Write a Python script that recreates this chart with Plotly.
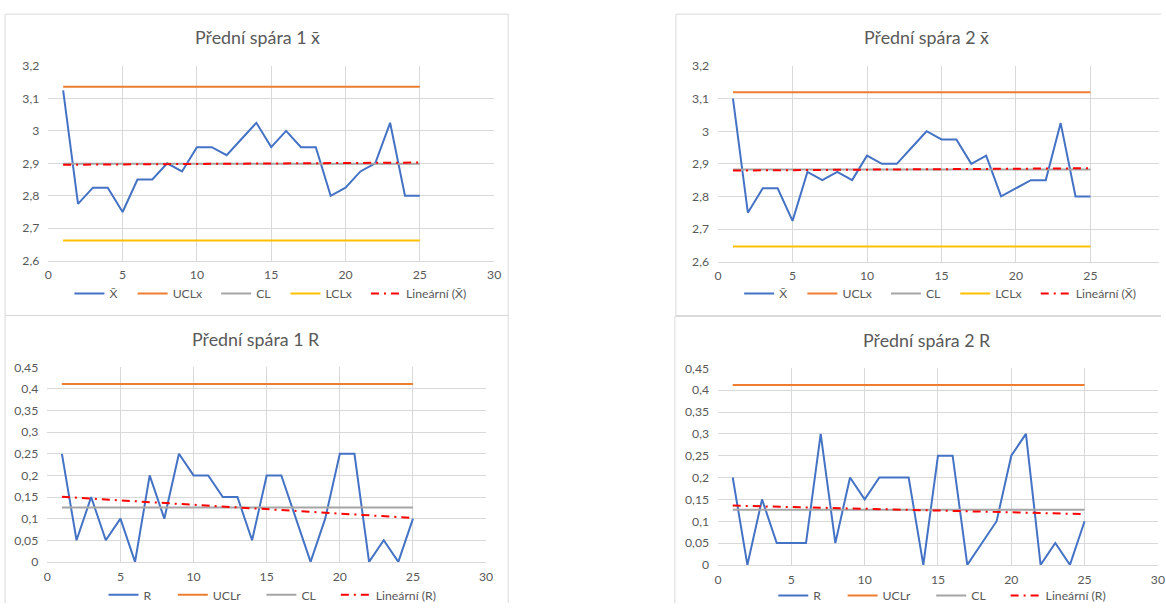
import numpy as np
import plotly.graph_objects as go

W, H = 1166, 610
BODY = 8                      # page margin around the figure
SX, SY = (W + 2 * BODY) / W, (H + 2 * BODY) / H   # page-to-view stretch

# ---- data -------------------------------------------------------------
samples = list(range(1, 26))

xbar_1 = [3.125, 2.775, 2.825, 2.825, 2.75, 2.85, 2.85, 2.9, 2.875, 2.95,
          2.95, 2.925, 2.975, 3.025, 2.95, 3.0, 2.95, 2.95, 2.8, 2.825,
          2.875, 2.9, 3.025, 2.8, 2.8]
xbar_2 = [3.1, 2.75, 2.825, 2.825, 2.725, 2.875, 2.85, 2.875, 2.85, 2.925,
          2.9, 2.9, 2.95, 3.0, 2.975, 2.975, 2.9, 2.925, 2.8, 2.825,
          2.85, 2.85, 3.025, 2.8, 2.8]
range_1 = [0.25, 0.05, 0.15, 0.05, 0.1, 0.0, 0.2, 0.1, 0.25, 0.2,
           0.2, 0.15, 0.15, 0.05, 0.2, 0.2, 0.1, 0.0, 0.1, 0.25,
           0.25, 0.0, 0.05, 0.0, 0.1]
range_2 = [0.2, 0.0, 0.15, 0.05, 0.05, 0.05, 0.3, 0.05, 0.2, 0.15,
           0.2, 0.2, 0.2, 0.0, 0.25, 0.25, 0.0, 0.05, 0.1, 0.25,
           0.3, 0.0, 0.05, 0.0, 0.1]

ucl_x1, cl_x1, lcl_x1 = 3.136, 2.899, 2.662
ucl_x2, cl_x2, lcl_x2 = 3.120, 2.883, 2.646
ucl_r1, cl_r1 = 0.4116, 0.126
ucl_r2, cl_r2 = 0.4116, 0.126

titles = ["Přední spára 1 x̄", "Přední spára 2 x̄",
          "Přední spára 1 R", "Přední spára 2 R"]
xbar_names = ["X̄", "UCLx", "CL", "LCLx", "Lineární (X̄)"]
range_names = ["R", "UCLr", "CL", "Lineární (R)"]

# ---- style ------------------------------------------------------------
FONT = "Lato"
TEXT = "#595959"
GRID = "#D9D9D9"
BLUE, ORANGE, GREY, YELLOW, RED = "#4472C4", "#ED7D31", "#A5A5A5", "#FFC000", "#FF0000"
FS = 0.5 * (SX + SY)          # font compensation for the stretch
R_EDGE = (W + BODY) / SX      # right / bottom figure edges in view pixels
B_EDGE = (H + BODY) / SY


def fx(px):
    """view pixel column -> paper fraction"""
    return (px * SX - BODY) / W


def fy(py):
    """view pixel row -> paper fraction"""
    return 1 - (py * SY - BODY) / H


def frame_path(left, top, right, bottom):
    """outline of a chart frame, leaving off sides that fall outside the figure"""
    r_in, b_in = right <= R_EDGE, bottom <= B_EDGE
    r, b = min(right, R_EDGE + 2), min(bottom, B_EDGE + 2)
    pts = []
    if r_in:
        pts.append((r, b))
    pts += [(r, top), (left, top), (left, b)]
    if b_in:
        pts.append((r, b))
    pts = [(fx(x), fy(y)) for x, y in pts]
    return "M" + " L".join(f"{x:.5f},{y:.5f}" for x, y in pts)


tr_right = min(1164, R_EDGE)

# view-pixel boxes: panel frame, plot area, title centre, legend anchor, entry widths
panels = [
    dict(frame=(9, 14, 510, 316), plot=(52, 66, 496, 261), xmax=30, title=(260, 37),
         legend=(73, 294), widths=[18, 38, 24, 35, 60], yr=(2.6, 3.2), dy=0.1),
    dict(frame=(677, 14, 1190, 316), plot=(719, 66, tr_right, 262),
         xmax=30 * (tr_right - 719) / (1164 - 719), title=(927, 37),
         legend=(740, 294), widths=[18, 38, 24, 35, 60], yr=(2.6, 3.2), dy=0.1),
    dict(frame=(9, 316, 510, 640), plot=(51, 368, 488, 563), xmax=30, title=(259, 340),
         legend=(107, 596), widths=[24, 43, 29, 60], yr=(0, 0.45), dy=0.05),
    dict(frame=(676, 317, 1190, 640), plot=(719, 369, 1157, 566), xmax=30,
         title=(927, 341), legend=(774, 597), widths=[24, 43, 29, 60],
         yr=(0, 0.45), dy=0.05),
]

series = [
    (xbar_1, [ucl_x1, cl_x1, lcl_x1], xbar_names),
    (xbar_2, [ucl_x2, cl_x2, lcl_x2], xbar_names),
    (range_1, [ucl_r1, cl_r1], range_names),
    (range_2, [ucl_r2, cl_r2], range_names),
]
limit_colors = [ORANGE, GREY, YELLOW]

fig = go.Figure()
layout = dict(
    width=W, height=H, margin=dict(l=0, r=0, t=0, b=0),
    paper_bgcolor="white", plot_bgcolor="white",
    separators=", ", font=dict(family=FONT, size=12 * FS, color=TEXT),
    showlegend=True, shapes=[], annotations=[],
)

for i, (panel, (values, limits, names)) in enumerate(zip(panels, series)):
    k = "" if i == 0 else str(i + 1)
    xa, ya = "x" + k, "y" + k
    leg = "legend" + k
    w = panel["widths"]

    traces = [(values, BLUE, names[0])]
    for lim, col, nm in zip(limits, limit_colors, names[1:]):
        traces.append(([lim] * len(samples), col, nm))

    for j, (yv, col, nm) in enumerate(traces):
        fig.add_trace(go.Scatter(
            x=samples, y=yv, mode="lines", name=nm,
            line=dict(color=col, width=2),
            xaxis=xa, yaxis=ya, legend=leg, legendwidth=w[j] * SX,
            hoverinfo="skip"))

    # linear trendline (least squares fit of the sample series)
    slope, icpt = np.polyfit(samples, values, 1)
    trend = [slope * s + icpt for s in samples]
    fig.add_trace(go.Scatter(
        x=samples, y=trend, mode="lines", name=names[-1],
        line=dict(color=RED, width=2, dash="8px,5px,2px,5px"),
        xaxis=xa, yaxis=ya, legend=leg, legendwidth=w[-1] * SX,
        hoverinfo="skip"))

    x0, y0, x1, y1 = panel["plot"]
    axis_common = dict(showgrid=True, gridcolor=GRID, gridwidth=1, zeroline=False,
                       ticks="", tickfont=dict(family=FONT, size=12 * FS, color=TEXT),
                       fixedrange=True)
    layout["xaxis" + k] = dict(axis_common, domain=[fx(x0), min(1.0, fx(x1))],
                               range=[0, panel["xmax"]], dtick=5, tick0=0, anchor=ya,
                               showline=True, linecolor=GRID, linewidth=1,
                               ticklabelstandoff=3)
    layout["yaxis" + k] = dict(axis_common, domain=[fy(y1), fy(y0)],
                               range=list(panel["yr"]), dtick=panel["dy"], tick0=0,
                               anchor=xa, showline=False, ticklabelstandoff=8)

    lx, ly = panel["legend"]
    layout[leg] = dict(orientation="h", x=fx(lx), y=fy(ly), xanchor="left",
                       yanchor="middle", bgcolor="rgba(0,0,0,0)",
                       font=dict(family=FONT, size=12 * FS, color=TEXT))

    layout["shapes"].append(dict(type="path", xref="paper", yref="paper",
                                 path=frame_path(*panel["frame"]),
                                 line=dict(color=GRID, width=1), layer="below"))

    tx, ty = panel["title"]
    layout["annotations"].append(dict(text=titles[i], xref="paper", yref="paper",
                                      x=fx(tx), y=fy(ty), xanchor="center",
                                      yanchor="middle", showarrow=False,
                                      font=dict(family=FONT, size=17.5 * FS, color=TEXT)))

fig.update_layout(**layout)
fig.write_html("out.html")
